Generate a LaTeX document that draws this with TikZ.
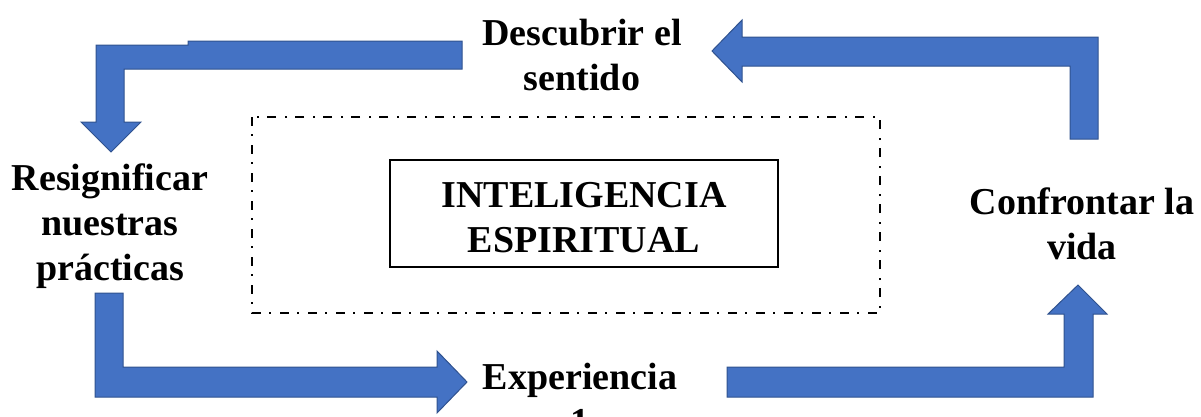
\documentclass[tikz,border=0pt]{standalone}
\usepackage{fontspec}
\setmainfont{Liberation Serif}
\definecolor{arrowfill}{HTML}{4472C4}
\definecolor{arrowline}{HTML}{2F528F}
\tikzset{
  blockarrow/.style={fill=arrowfill, draw=arrowline, line width=1pt, line join=miter},
  lbl/.style={font=\fontsize{38}{45}\selectfont\bfseries, align=center, inner sep=0pt, anchor=base},
  framebox/.style={draw=black, line width=2.2pt},
  outerbox/.style={draw=black, line width=2pt, dash pattern=on 9pt off 8pt on 2pt off 9pt}
}
\begin{document}
\begin{tikzpicture}[x=1pt,y=-1pt]
\useasboundingbox (0,0) rectangle (1201,416);
\clip (0,0) rectangle (1201,416);
% frames
\draw[outerbox] (252,117) rectangle (880,313);
\draw[framebox] (390,160) rectangle (778,267);
% labels (anchor base = baseline of the last line)
\node[lbl] (core) at (584,252) {INTELIGENCIA\\ESPIRITUAL};
\node[lbl] (desc) at (582,90) {Descubrir el\\sentido};
\node[lbl] (resig) at (110,280) {Resignificar\\nuestras\\prácticas};
\node[lbl] (conf) at (1082,259) {Confrontar la\\vida};
\node[lbl] (exp) at (580,434) {Experiencia\\1};
% block arrows
\draw[blockarrow] (462,41) -- (188,41) -- (188,45) -- (96,45) -- (96,122) -- (81,122)
  -- (111,152) -- (141,122) -- (124,122) -- (124,69) -- (462,69) -- cycle;
\draw[blockarrow] (1070,139) -- (1098,139) -- (1098,37) -- (742,37) -- (742,20)
  -- (712,51) -- (742,82) -- (742,66) -- (1070,66) -- cycle;
\draw[blockarrow] (95,293) -- (123,293) -- (123,367) -- (437,367) -- (437,351)
  -- (467,382) -- (437,413) -- (437,397) -- (95,397) -- cycle;
\draw[blockarrow] (727,367) -- (1064,367) -- (1064,314) -- (1048,314) -- (1078,285)
  -- (1107,314) -- (1093,314) -- (1093,397) -- (727,397) -- cycle;
\end{tikzpicture}
\end{document}
